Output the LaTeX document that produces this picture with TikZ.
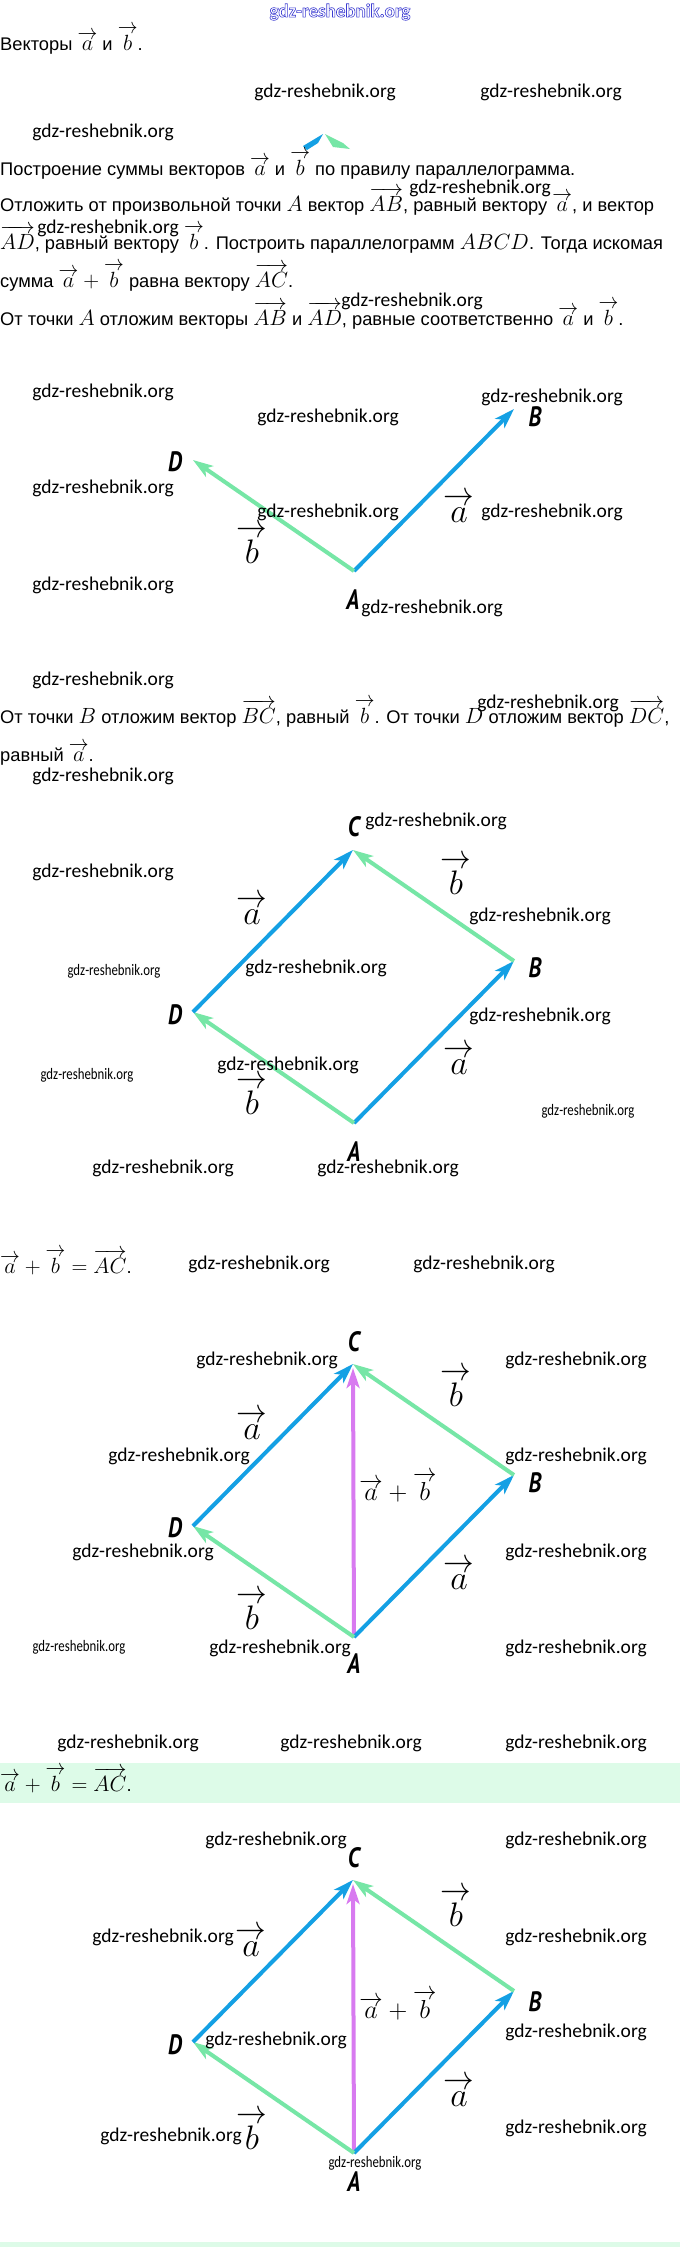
\RequirePackage{fix-cm}
\documentclass[tikz,border=0pt]{standalone}
\usepackage{amsmath}
\usepackage[no-math]{fontspec}
\setmainfont{Liberation Sans}
\newfontfamily\wmfont{Carlito}
\newfontfamily\letterfont{PT Sans}
\usepackage{tikz}
\usetikzlibrary{arrows.meta}
\usepackage{xcolor}
\definecolor{vecblue}{RGB}{20,160,228}
\definecolor{vecgreen}{RGB}{118,230,166}
\definecolor{vecviolet}{RGB}{216,122,240}
\definecolor{bandgreen}{RGB}{221,251,232}
\definecolor{wmblue}{RGB}{60,60,210}
\pgfdeclarelayer{edgelayer}
\pgfdeclarelayer{nodelayer}
\pgfsetlayers{edgelayer,nodelayer,main}
\newcommand{\txm}[1]{{\fontsize{22}{26}\selectfont$#1$}}
\newcommand{\vecr}[1]{\vbox{\offinterlineskip\ialign{##\crcr\hfil\scalebox{0.9}[1]{$\rightarrow$}\hfil\crcr\noalign{\kern0.06em}\hfil$#1$\hfil\crcr}}}
\newcommand{\narrowname}[1]{\scalebox{0.8}[1]{#1}}
\newcommand{\smallwm}{\scalebox{0.8}[1]{gdz-reshebnik.org}}
\tikzstyle{bluevec}=[-{Stealth[length=20pt,width=13pt,inset=5pt]}, draw=vecblue, line width=4]
\tikzstyle{greenvec}=[-{Stealth[length=20pt,width=13pt,inset=5pt]}, draw=vecgreen, line width=4]
\tikzstyle{sumvec}=[-{Stealth[length=20pt,width=13pt,inset=5pt]}, draw=vecviolet, line width=4, shorten >=4pt]
\tikzstyle{none}=[inner sep=0pt]
\tikzstyle{txt}=[inner sep=0pt, anchor=base west, font=\fontsize{18.3}{22}\selectfont]
\tikzstyle{wm}=[inner sep=0pt, font=\wmfont\fontsize{19.5}{22}\selectfont]
\tikzstyle{wmsmall}=[inner sep=0pt, font=\wmfont\fontsize{16}{18}\selectfont]
\tikzstyle{wmtop}=[inner sep=0pt, text=wmblue, font=\wmfont\bfseries\fontsize{19}{22}\selectfont]
\tikzstyle{vertex}=[inner sep=0pt, font=\letterfont\bfseries\itshape\fontsize{28}{30}\selectfont]
\tikzstyle{veclabel}=[inner sep=0pt, font=\fontsize{34}{38}\selectfont]
\tikzstyle{sumlabel}=[inner sep=0pt, font=\fontsize{26}{30}\selectfont]

\begin{document}
\begin{tikzpicture}[x=1pt,y=-1pt]
	\useasboundingbox (0,0) rectangle (680,2247);
	\begin{pgfonlayer}{nodelayer}
		\node [style=wmtop] (wt) at (340,12) {\special{pdf:literal direct 1 Tr 0.6 w}gdz-reshebnik.org\special{pdf:literal direct 0 Tr}};

		\node [style=txt] (t1) at (0,50) {Векторы \txm{\vecr{a}} и \txm{\vecr{b}}.};
		\node [style=txt] (t2) at (0,175) {Построение суммы векторов \txm{\vecr{a}} и \txm{\vecr{b}} по правилу параллелограмма.};
		\node [style=txt] (t3) at (0,211) {Отложить от произвольной точки \txm{A} вектор \txm{\overrightarrow{AB}}, равный вектору \txm{\vecr{a}}, и вектор};
		\node [style=txt] (t4) at (0,249) {\txm{\overrightarrow{AD}}, равный вектору \txm{\vecr{b}}. Построить параллелограмм \txm{ABCD}. Тогда искомая};
		\node [style=txt] (t5) at (0,287) {сумма \txm{\vecr{a}+\vecr{b}} равна вектору \txm{\overrightarrow{AC}}.};
		\node [style=txt] (t6) at (0,325) {От точки \txm{A} отложим векторы \txm{\overrightarrow{AB}} и \txm{\overrightarrow{AD}}, равные соответственно \txm{\vecr{a}} и \txm{\vecr{b}}.};
		\node [style=txt] (t7) at (0,723) {От точки \txm{B} отложим вектор \txm{\overrightarrow{BC}}, равный \txm{\vecr{b}}. От точки \txm{D} отложим вектор \txm{\overrightarrow{DC}},};
		\node [style=txt] (t8) at (0,761) {равный \txm{\vecr{a}}.};
		\node [style=txt] (t9) at (0,1273) {\txm{\vecr{a}+\vecr{b}=\overrightarrow{AC}}.};
		\node [style=txt] (t10) at (0,1791) {\txm{\vecr{a}+\vecr{b}=\overrightarrow{AC}}.};

		\node [style=wm] (w1) at (325,92) {gdz-reshebnik.org};
		\node [style=wm] (w2) at (551,92) {gdz-reshebnik.org};
		\node [style=wm] (w3) at (103,132) {gdz-reshebnik.org};
		\node [style=wm] (w4) at (480,188) {gdz-reshebnik.org};
		\node [style=wm] (w5) at (108,228) {gdz-reshebnik.org};
		\node [style=wm] (w6) at (412,301) {gdz-reshebnik.org};

		\node [style=wm] (w7) at (103,392) {gdz-reshebnik.org};
		\node [style=wm] (w8) at (328,417) {gdz-reshebnik.org};
		\node [style=wm] (w9) at (552,397) {gdz-reshebnik.org};
		\node [style=wm] (w10) at (103,488) {gdz-reshebnik.org};
		\node [style=wm] (w11) at (328,512) {gdz-reshebnik.org};
		\node [style=wm] (w12) at (552,512) {gdz-reshebnik.org};
		\node [style=wm] (w13) at (103,585) {gdz-reshebnik.org};
		\node [style=wm] (w14) at (432,608) {gdz-reshebnik.org};

		\node [style=wm] (w15) at (103,680) {gdz-reshebnik.org};
		\node [style=wm] (w16) at (548,703) {gdz-reshebnik.org};
		\node [style=wm] (w17) at (103,776) {gdz-reshebnik.org};
		\node [style=wm] (w18) at (436,821) {gdz-reshebnik.org};
		\node [style=wm] (w19) at (103,872) {gdz-reshebnik.org};
		\node [style=wm] (w20) at (540,916) {gdz-reshebnik.org};
		\node [style=wmsmall] (w21) at (114,971) {\smallwm};
		\node [style=wm] (w22) at (316,968) {gdz-reshebnik.org};
		\node [style=wm] (w23) at (540,1016) {gdz-reshebnik.org};
		\node [style=wm] (w24) at (288,1065) {gdz-reshebnik.org};
		\node [style=wmsmall] (w25) at (87,1075) {\smallwm};
		\node [style=wmsmall] (w26) at (588,1111) {\smallwm};
		\node [style=wm] (w27) at (163,1168) {gdz-reshebnik.org};
		\node [style=wm] (w28) at (388,1168) {gdz-reshebnik.org};

		\node [style=wm] (w29) at (259,1264) {gdz-reshebnik.org};
		\node [style=wm] (w30) at (484,1264) {gdz-reshebnik.org};
		\node [style=wm] (w31) at (267,1360) {gdz-reshebnik.org};
		\node [style=wm] (w32) at (576,1360) {gdz-reshebnik.org};
		\node [style=wm] (w33) at (179,1456) {gdz-reshebnik.org};
		\node [style=wm] (w34) at (576,1456) {gdz-reshebnik.org};
		\node [style=wm] (w35) at (143,1552) {gdz-reshebnik.org};
		\node [style=wm] (w36) at (576,1552) {gdz-reshebnik.org};
		\node [style=wmsmall] (w37) at (79,1647) {\smallwm};
		\node [style=wm] (w38) at (280,1648) {gdz-reshebnik.org};
		\node [style=wm] (w39) at (576,1648) {gdz-reshebnik.org};

		\node [style=wm] (w40) at (128,1743) {gdz-reshebnik.org};
		\node [style=wm] (w41) at (351,1743) {gdz-reshebnik.org};
		\node [style=wm] (w42) at (576,1743) {gdz-reshebnik.org};
		\node [style=wm] (w43) at (276,1840) {gdz-reshebnik.org};
		\node [style=wm] (w44) at (576,1840) {gdz-reshebnik.org};
		\node [style=wm] (w45) at (163,1937) {gdz-reshebnik.org};
		\node [style=wm] (w46) at (576,1937) {gdz-reshebnik.org};
		\node [style=wm] (w47) at (276,2040) {gdz-reshebnik.org};
		\node [style=wm] (w48) at (576,2032) {gdz-reshebnik.org};
		\node [style=wm] (w49) at (171,2136) {gdz-reshebnik.org};
		\node [style=wm] (w50) at (576,2128) {gdz-reshebnik.org};
		\node [style=wmsmall] (w51) at (375,2163) {\smallwm};

		\coordinate (A1) at (354,571);
		\coordinate (B1) at (514,409);
		\coordinate (D1) at (193,460);
		\node [style=vertex] (lA1) at (353,600) {\narrowname{A}};
		\node [style=vertex] (lB1) at (535,417) {\narrowname{B}};
		\node [style=vertex] (lD1) at (175,462) {\narrowname{D}};
		\node [style=veclabel] (va1) at (459,508) {$\vecr{a}$};
		\node [style=veclabel] (vb1) at (252,544) {$\vecr{b}$};

		\coordinate (A2) at (354,1123);
		\coordinate (B2) at (514,961);
		\coordinate (C2) at (353,850);
		\coordinate (D2) at (193,1012);
		\node [style=vertex] (lA2) at (354,1152) {\narrowname{A}};
		\node [style=vertex] (lB2) at (535,968) {\narrowname{B}};
		\node [style=vertex] (lC2) at (354,827) {\narrowname{C}};
		\node [style=vertex] (lD2) at (175,1015) {\narrowname{D}};
		\node [style=veclabel] (vb2) at (456,875) {$\vecr{b}$};
		\node [style=veclabel] (va2) at (252,910) {$\vecr{a}$};
		\node [style=veclabel] (va2') at (459,1060) {$\vecr{a}$};
		\node [style=veclabel] (vb2') at (252,1095) {$\vecr{b}$};

		\coordinate (A3) at (354,1637);
		\coordinate (B3) at (514,1475);
		\coordinate (C3) at (353,1364);
		\coordinate (D3) at (193,1526);
		\node [style=vertex] (lA3) at (354,1664) {\narrowname{A}};
		\node [style=vertex] (lB3) at (535,1483) {\narrowname{B}};
		\node [style=vertex] (lC3) at (354,1342) {\narrowname{C}};
		\node [style=vertex] (lD3) at (175,1528) {\narrowname{D}};
		\node [style=veclabel] (vb3) at (456,1387) {$\vecr{b}$};
		\node [style=veclabel] (va3) at (252,1425) {$\vecr{a}$};
		\node [style=sumlabel] (s3) at (398,1487) {$\vecr{a}+\vecr{b}$};
		\node [style=veclabel] (va3') at (459,1575) {$\vecr{a}$};
		\node [style=veclabel] (vb3') at (252,1610) {$\vecr{b}$};

		\coordinate (A4) at (354,2153);
		\coordinate (B4) at (514,1991);
		\coordinate (C4) at (353,1880);
		\coordinate (D4) at (193,2042);
		\node [style=vertex] (lA4) at (354,2182) {\narrowname{A}};
		\node [style=vertex] (lB4) at (535,2002) {\narrowname{B}};
		\node [style=vertex] (lC4) at (354,1858) {\narrowname{C}};
		\node [style=vertex] (lD4) at (175,2045) {\narrowname{D}};
		\node [style=veclabel] (vb4) at (456,1907) {$\vecr{b}$};
		\node [style=veclabel] (va4) at (251,1942) {$\vecr{a}$};
		\node [style=sumlabel] (s4) at (398,2005) {$\vecr{a}+\vecr{b}$};
		\node [style=veclabel] (va4') at (459,2092) {$\vecr{a}$};
		\node [style=veclabel] (vb4') at (252,2130) {$\vecr{b}$};
	\end{pgfonlayer}
	\begin{pgfonlayer}{edgelayer}
		\fill [white] (0,0) rectangle (680,2247);
		\fill [bandgreen] (0,1763) rectangle (680,1803);
		\fill [bandgreen] (0,2242) rectangle (680,2247);
		\fill [vecblue] (303,146) -- (323,134) -- (318,143) -- (307,150) -- cycle;
		\fill [vecgreen] (325,134) -- (343,143) -- (350,149) -- (333,147) -- cycle;

		\draw [style=bluevec] (A1) to (B1);
		\draw [style=greenvec] (A1) to (D1);

		\draw [style=bluevec] (A2) to (B2);
		\draw [style=greenvec] (A2) to (D2);
		\draw [style=greenvec] (B2) to (C2);
		\draw [style=bluevec] (D2) to (C2);

		\draw [style=sumvec] (A3) to (C3);
		\draw [style=bluevec] (A3) to (B3);
		\draw [style=greenvec] (A3) to (D3);
		\draw [style=greenvec] (B3) to (C3);
		\draw [style=bluevec] (D3) to (C3);

		\draw [style=sumvec] (A4) to (C4);
		\draw [style=bluevec] (A4) to (B4);
		\draw [style=greenvec] (A4) to (D4);
		\draw [style=greenvec] (B4) to (C4);
		\draw [style=bluevec] (D4) to (C4);
	\end{pgfonlayer}
\end{tikzpicture}
\end{document}
